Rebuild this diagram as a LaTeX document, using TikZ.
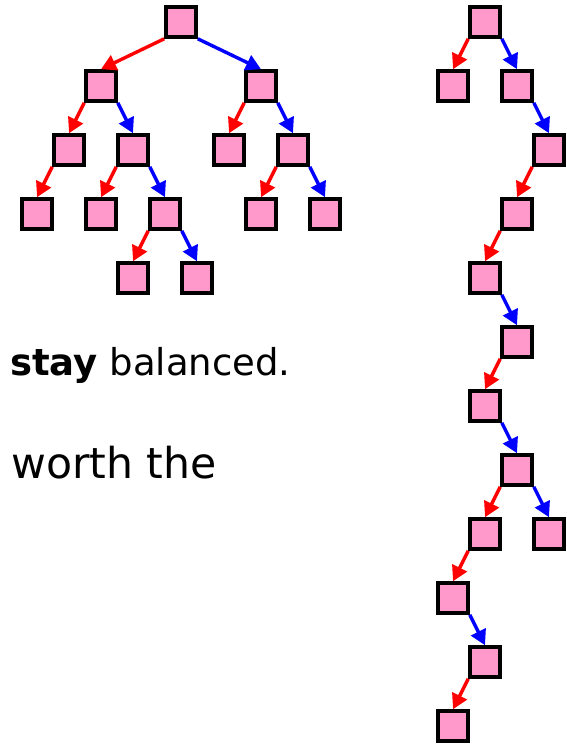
\documentclass[tikz,border=0pt]{standalone}
\usepackage{fontspec}
\setmainfont{DejaVu Sans}
\usepackage{tikz}
\usepackage{xcolor}
\usetikzlibrary{arrows.meta}
\definecolor{keyfill}{HTML}{FF99CC}
\definecolor{leftarc}{HTML}{FF0000}
\definecolor{rightarc}{HTML}{0000FF}
\tikzset{
  key/.style={draw=black, fill=keyfill, line width=3.6pt, minimum size=30pt,
              inner sep=0pt},
  lft/.style={-{Triangle[length=15pt,width=16pt]}, line width=3.4pt, draw=leftarc},
  rgt/.style={-{Triangle[length=15pt,width=16pt]}, line width=3.4pt, draw=rightarc},
  words/.style={anchor=base west, inner sep=0pt, text=black}
}

\begin{document}
\begin{tikzpicture}[x=1pt,y=-1pt]
        \useasboundingbox (0,0) rectangle (567,745);

        % balanced tree
        \node[key] (b) at (181,22) {};
        \node[key] (bl) at (101,86) {};
        \node[key] (br) at (261,86) {};
        \node[key] (bll) at (69,150) {};
        \node[key] (blr) at (133,150) {};
        \node[key] (brl) at (229,150) {};
        \node[key] (brr) at (293,150) {};
        \node[key] (blll) at (37,214) {};
        \node[key] (blrl) at (101,214) {};
        \node[key] (blrr) at (165,214) {};
        \node[key] (brrl) at (261,214) {};
        \node[key] (brrr) at (325,214) {};
        \node[key] (blrrl) at (133,278) {};
        \node[key] (blrrr) at (197,278) {};

        \draw[lft] (b.south west) -- (bl.north);
        \draw[rgt] (b.south east) -- (br.north);
        \draw[lft] (bl.south west) -- (bll.north);
        \draw[rgt] (bl.south east) -- (blr.north);
        \draw[lft] (br.south west) -- (brl.north);
        \draw[rgt] (br.south east) -- (brr.north);
        \draw[lft] (bll.south west) -- (blll.north);
        \draw[lft] (blr.south west) -- (blrl.north);
        \draw[rgt] (blr.south east) -- (blrr.north);
        \draw[lft] (brr.south west) -- (brrl.north);
        \draw[rgt] (brr.south east) -- (brrr.north);
        \draw[lft] (blrr.south west) -- (blrrl.north);
        \draw[rgt] (blrr.south east) -- (blrrr.north);

        % degenerate tree
        \node[key] (s0) at (485,22) {};
        \node[key] (s1) at (453,86) {};
        \node[key] (s2) at (517,86) {};
        \node[key] (s3) at (549,150) {};
        \node[key] (s4) at (517,214) {};
        \node[key] (s5) at (485,278) {};
        \node[key] (s6) at (517,342) {};
        \node[key] (s7) at (485,406) {};
        \node[key] (s8) at (517,470) {};
        \node[key] (s9) at (485,534) {};
        \node[key] (s10) at (549,534) {};
        \node[key] (s11) at (453,598) {};
        \node[key] (s12) at (485,662) {};
        \node[key] (s13) at (453,726) {};

        \draw[lft] (s0.south west) -- (s1.north);
        \draw[rgt] (s0.south east) -- (s2.north);
        \draw[rgt] (s2.south east) -- (s3.north);
        \draw[lft] (s3.south west) -- (s4.north);
        \draw[lft] (s4.south west) -- (s5.north);
        \draw[rgt] (s5.south east) -- (s6.north);
        \draw[lft] (s6.south west) -- (s7.north);
        \draw[rgt] (s7.south east) -- (s8.north);
        \draw[lft] (s8.south west) -- (s9.north);
        \draw[rgt] (s8.south east) -- (s10.north);
        \draw[lft] (s9.south west) -- (s11.north);
        \draw[rgt] (s11.south east) -- (s12.north);
        \draw[lft] (s12.south west) -- (s13.north);

        \node[words,font=\fontsize{37}{41}\selectfont] (stay) at (10,375)
          {\textbf{stay} balanced.};
        \node[words,font=\fontsize{42.6}{46}\selectfont] (worth) at (11,478)
          {worth the};
      \end{tikzpicture}
\end{document}
